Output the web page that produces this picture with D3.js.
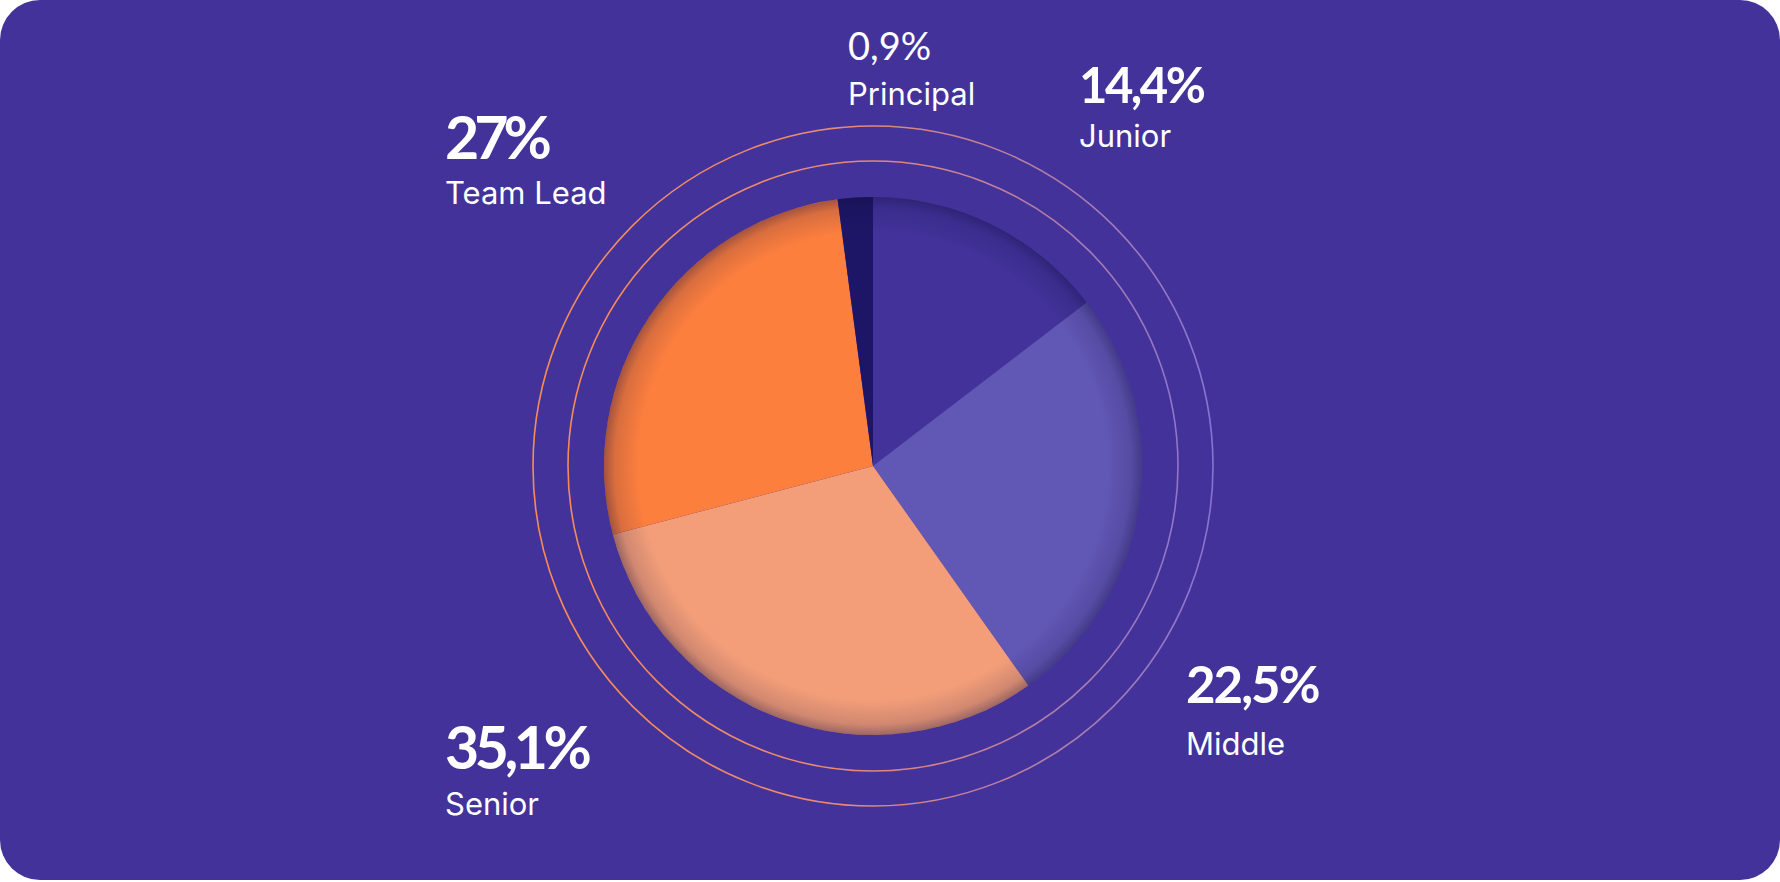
<!DOCTYPE html>
<html lang="en">
<head>
    <meta charset="UTF-8">
    <title>Levels</title>
    <script src="https://cdn.jsdelivr.net/npm/d3@7"></script>
    <style>
        body { margin: 0; background: #fff; }
        text { font-family: Inter, "Noto Sans", sans-serif; fill: #fff; }
        text.pct { font-family: Lato, Inter, sans-serif; }
    </style>
</head>
<body>
    <svg id="svg" width="1780" height="882"></svg>
    <script>
        // slices clockwise from 12 o'clock
        const levels = ["Junior", "Middle", "Senior", "Team Lead", "Principal"];
        const pctText = ["14,4%", "22,5%", "35,1%", "27%", "0,9%"];
        // slice sizes as drawn in the picture (the design does not follow the printed % exactly)
        const shares = [14.6, 25.6, 30.7, 27.0, 2.1];
        const colors = ["#42329a", "#6157b5", "#f39e79", "#fd7f3e", "#1d1666"];

        const svg = d3.select("#svg");
        const W = 1780, H = 882;
        const cx = 873, cy = 466;
        const radius = 269;
        const rings = [305, 340];

        const defs = svg.append("defs");
        const ringGrad = defs.append("linearGradient")
            .attr("id", "ringGrad")
            .attr("gradientUnits", "userSpaceOnUse")
            .attr("x1", cx - 340).attr("y1", cy)
            .attr("x2", cx + 340).attr("y2", cy);
        ringGrad.append("stop").attr("offset", "0%").attr("stop-color", "#f98a55");
        ringGrad.append("stop").attr("offset", "45%").attr("stop-color", "#e98a72");
        ringGrad.append("stop").attr("offset", "100%").attr("stop-color", "#8774d2");

        const shade = defs.append("radialGradient")
            .attr("id", "shade")
            .attr("gradientUnits", "userSpaceOnUse")
            .attr("cx", cx).attr("cy", cy).attr("r", radius);
        shade.append("stop").attr("offset", "0.87").attr("stop-color", "#120c3f").attr("stop-opacity", 0);
        shade.append("stop").attr("offset", "0.96").attr("stop-color", "#120c3f").attr("stop-opacity", 0.15);
        shade.append("stop").attr("offset", "1").attr("stop-color", "#120c3f").attr("stop-opacity", 0.38);

        // card
        svg.append("rect")
            .attr("x", 0).attr("y", 0)
            .attr("width", W).attr("height", 880)
            .attr("rx", 40)
            .attr("fill", "#42329a");

        const g = svg.append("g").attr("transform", `translate(${cx},${cy})`);

        g.selectAll("circle.ring")
            .data(rings)
            .join("circle")
            .attr("class", "ring")
            .attr("r", d => d)
            .attr("fill", "none")
            .attr("stroke", "url(#ringGrad)")
            .attr("stroke-width", 1.6)
            .attr("transform", `translate(${-cx},${-cy})`)
            .attr("cx", cx).attr("cy", cy);

        const pie = d3.pie().sort(null).value(d => d)(shares);
        const arc = d3.arc().innerRadius(0).outerRadius(radius);

        g.selectAll("path.slice")
            .data(pie)
            .join("path")
            .attr("class", "slice")
            .attr("d", arc)
            .attr("fill", (d, i) => colors[i]);

        // inner shadow along the rim
        svg.append("circle")
            .attr("cx", cx).attr("cy", cy).attr("r", radius)
            .attr("fill", "url(#shade)");

        // labels: [x, baseline of %, baseline of name, % font size, % weight, % tracking]
        const place = {
            "Junior":    [1079, 103, 147, 49, 700, -2.5],
            "Middle":    [1186, 703, 755, 51, 700, -2],
            "Senior":    [445, 769, 815, 59, 700, -4.5],
            "Team Lead": [445, 159, 204, 59, 700, -5],
            "Principal": [848, 60, 105, 38, 400, 0]
        };

        levels.forEach((name, i) => {
            const p = place[name];
            svg.append("text")
                .attr("class", "pct")
                .attr("x", p[0]).attr("y", p[1])
                .style("font-size", p[3] + "px")
                .style("font-weight", p[4])
                .style("letter-spacing", p[5] + "px")
                .text(pctText[i]);
            svg.append("text")
                .attr("x", p[0]).attr("y", p[2])
                .style("font-size", "31px")
                .style("font-weight", 400)
                .text(name);
        });
    </script>
</body>
</html>
